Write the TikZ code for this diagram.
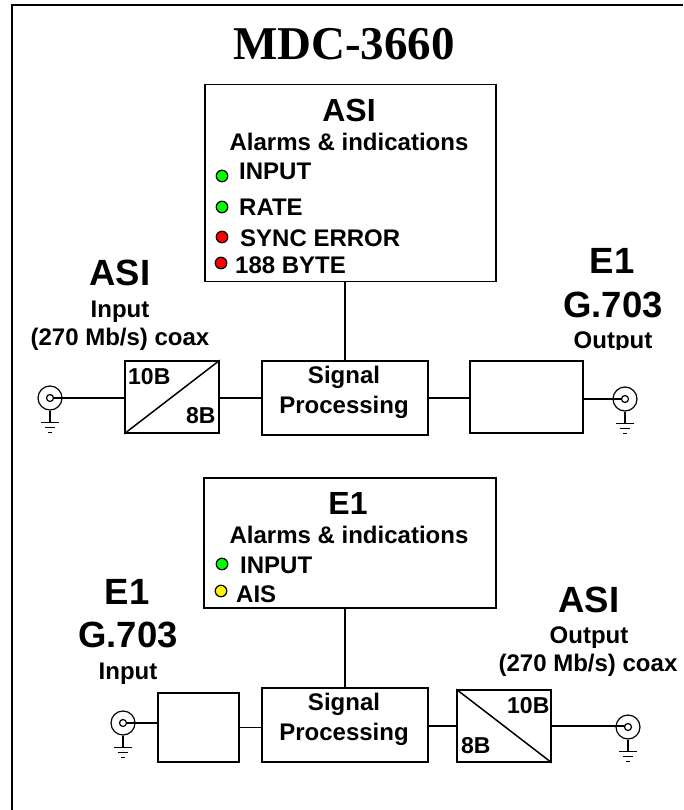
\documentclass[tikz,border=0pt]{standalone}
\usepackage{fontspec}
\setmainfont{Liberation Sans}
\newfontfamily\titlefont{Liberation Serif}
\begin{document}
\begin{tikzpicture}[x=1pt, y=-1pt,
    block/.style={draw, line width=1.5pt, fill=white, inner sep=0pt},
    coax/.style={draw, circle, line width=1.2pt, minimum size=24pt, inner sep=0pt},
    led/.style={draw, circle, line width=1.2pt, minimum size=11.5pt, inner sep=0pt},
    big/.style={anchor=base, inner sep=0pt, font=\fontsize{36.5}{36.5}\selectfont\bfseries},
    head/.style={anchor=base, inner sep=0pt, font=\fontsize{32}{32}\selectfont\bfseries},
    txt/.style={anchor=base, inner sep=0pt, font=\fontsize{24}{24}\selectfont\bfseries},
    item/.style={anchor=base west, inner sep=0pt, font=\fontsize{24}{24}\selectfont\bfseries},
    conv/.style={anchor=base west, inner sep=0pt, font=\fontsize{23}{23}\selectfont\bfseries}]
\useasboundingbox (0, 0) rectangle (683, 810);
\draw[line width=2.5pt] (12, 810)--(12, 5)--(683, 5);

\node[anchor=base, inner sep=0pt, font=\fontsize{47}{47}\selectfont\titlefont\bfseries] (title) at (344, 60) {MDC-3660};

% ASI to E1
\node[block, minimum width=291pt, minimum height=197pt] (alarmA) at (350.5, 183) {};
\node[head] (alarmAname) at (349, 122) {ASI};
\node[txt] (alarmAtext) at (349, 151) {Alarms \& indications};
\node[led, fill=green] (ledAa) at (222, 176) {};
\node[led, fill=green] (ledAb) at (222, 207) {};
\node[led, fill=red] (ledAc) at (222, 237) {};
\node[led, fill=red] (ledAd) at (221, 263) {};
\node[item] (itemAa) at (239, 180) {INPUT};
\node[item] (itemAb) at (239, 215) {RATE};
\node[item] (itemAc) at (240, 247) {SYNC ERROR};
\node[item] (itemAd) at (235, 273) {188 BYTE};

\node[big] (asiin) at (120, 285) {ASI};
\node[txt] (asiinb) at (120, 317) {Input};
\node[txt] (asiinc) at (120, 345) {(270 Mb/s) coax};
\node[big] (eout) at (612, 273) {E1};
\node[big] (eoutb) at (613, 317) {G.703};
\begin{scope}
\clip (560, 325) rectangle (670, 349);
\node[txt] (eoutc) at (613, 348) {Output};
\end{scope}

\node[coax] (coaxa) at (50, 398) {};
\node[block, minimum width=94pt, minimum height=72pt] (conva) at (172, 397) {};
\node[block, minimum width=166pt, minimum height=74pt] (procA) at (345, 398) {};
\node[block, minimum width=113pt, minimum height=72pt] (outA) at (526.5, 397) {};
\node[coax] (coaxb) at (625, 399) {};
\draw[line width=1.5pt] (conva.south west)--(conva.north east);
\node[conv] (convaa) at (128, 384) {10B};
\node[conv] (convab) at (186, 423) {8B};
\node[txt] (procAa) at (344, 383) {Signal};
\node[txt] (procAb) at (344, 413) {Processing};

\draw[line width=1.3pt] (coaxa.center)--(conva.west |- coaxa.center);
\draw[line width=1.5pt] (conva.east |- procA.west)--(procA.west);
\draw[line width=1.5pt] (procA.east)--(outA.west |- procA.east);
\draw[line width=1.3pt] (outA.east |- coaxb.center)--(coaxb.center);
\draw[line width=1.5pt] (alarmA.south -| procA.north)--(procA.north);

% E1 to ASI
\node[block, minimum width=292pt, minimum height=130pt] (alarmB) at (350, 543) {};
\node[head] (alarmBname) at (348, 514) {E1};
\node[txt] (alarmBtext) at (349, 543) {Alarms \& indications};
\node[led, fill=green] (ledBa) at (222, 564) {};
\node[led, fill=yellow] (ledBb) at (221, 591) {};
\node[item] (itemBa) at (240, 573) {INPUT};
\node[item] (itemBb) at (236, 602) {AIS};

\node[big] (ein) at (127, 604) {E1};
\node[big] (einb) at (128, 647) {G.703};
\node[txt] (einc) at (128, 679) {Input};
\node[big] (asiout) at (589, 612) {ASI};
\node[txt] (asioutb) at (589, 643) {Output};
\node[txt] (asioutc) at (588, 671) {(270 Mb/s) coax};

\node[coax] (coaxc) at (123, 723) {};
\node[block, minimum width=81pt, minimum height=69pt] (inB) at (198.5, 727.5) {};
\node[block, minimum width=166pt, minimum height=74pt] (procB) at (345, 725) {};
\node[block, minimum width=94pt, minimum height=72pt] (convb) at (504, 726) {};
\node[coax] (coaxd) at (628, 727) {};
\draw[line width=1.5pt] (convb.north west)--(convb.south east);
\node[conv] (convba) at (507, 713) {10B};
\node[conv] (convbb) at (461, 753) {8B};
\node[txt] (procBa) at (344, 710) {Signal};
\node[txt] (procBb) at (344, 740) {Processing};

\draw[line width=1.3pt] (coaxc.center)--(inB.west |- coaxc.center);
\draw[line width=1.5pt] (inB.east)--(inB.east -| procB.west);
\draw[line width=1.5pt] (procB.east |- convb.west)--(convb.west);
\draw[line width=1.3pt] (convb.east)--(convb.east -| coaxd.center);
\draw[line width=1.5pt] (alarmB.south -| procB.north)--(procB.north);

% inner ring and ground of each connector
\foreach \c in {coaxa, coaxb, coaxc, coaxd} {
  \draw[line width=1.2pt, fill=white] (\c.center) circle (3.5pt);
  \draw[line width=1.2pt] (\c.south)--++(0, 12);
  \draw[line width=1.2pt] ([xshift=-9pt, yshift=-12pt]\c.south)--++(18, 0);
  \draw[line width=1.2pt] ([xshift=-5pt, yshift=-17pt]\c.south)--++(10, 0);
  \draw[line width=1.2pt] ([xshift=-2pt, yshift=-22pt]\c.south)--++(4, 0);
}
\end{tikzpicture}
\end{document}
